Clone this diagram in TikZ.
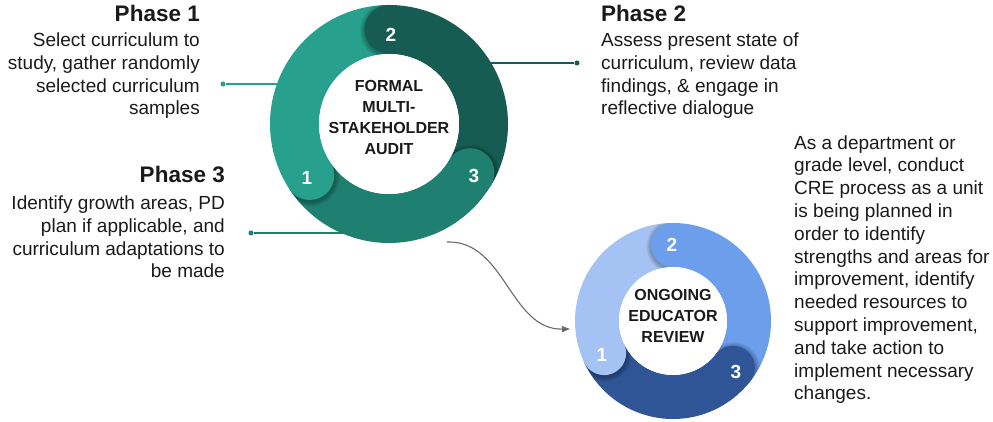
\documentclass[tikz,border=0pt]{standalone}
\usepackage{fontspec}
\setmainfont{Liberation Sans}
\usetikzlibrary{calc,arrows.meta}

% ring palettes
\definecolor{tealA}{HTML}{27A08E}
\definecolor{tealB}{HTML}{175C52}
\definecolor{tealC}{HTML}{1F8072}
\definecolor{blueA}{HTML}{A4C2F4}
\definecolor{blueB}{HTML}{6D9EEB}
\definecolor{blueC}{HTML}{2F5597}
\definecolor{ink}{HTML}{1A1A1A}
\definecolor{curvegray}{HTML}{6A6A6A}

% annular sector: centre, outer r, inner r, start angle, end angle, colour
\newcommand{\ringSeg}[6]{%
  \fill[#6] ($(#1)+(#4:#2pt)$) arc[start angle=#4, end angle=#5, radius=#2pt]
    -- ($(#1)+(#5:#3pt)$) arc[start angle=#5, end angle=#4, radius=#3pt] -- cycle;}
% rounded segment head; its soft shadow falls only on the preceding segment
% (the wedge counter-clockwise of the head):
% centre, outer r, mid radius, half width, angle, colour
\newcommand{\ringCap}[6]{%
  \begin{scope}
    \clip (#1) circle[radius=#2pt];
    \clip (#1) -- ($(#1)+(#5:#2pt+10pt)$) arc[start angle=#5, end angle=#5+70, radius=#2pt+10pt] -- cycle;
    \foreach \k in {1,...,5}{%
      \fill[black, opacity=0.06] ($(#1)+(#5:#3pt)+(0.5pt,-1.5pt)$) circle[radius=#4pt+\k*1pt];}
  \end{scope}
  \fill[#6] ($(#1)+(#5:#3pt)$) circle[radius=#4pt];}

\tikzset{
  heading/.style={font=\fontsize{22.5}{26}\selectfont\bfseries, text=ink, inner sep=0pt},
  body/.style={font=\fontsize{19}{22.8}\selectfont, text=ink, inner sep=0pt},
  hub/.style={font=\fontsize{16}{21}\selectfont\bfseries, text=ink, align=center, inner sep=0pt},
  num/.style={font=\fontsize{19}{22}\selectfont\bfseries, text=white, inner sep=0pt},
  dot/.style={circle, fill=#1, inner sep=0pt, minimum size=5pt},
  lead/.style={line width=1.4pt, draw=#1},
}

\begin{document}
\begin{tikzpicture}[x=1pt, y=1pt]
\useasboundingbox (0,0) rectangle (993,422);

% centres of the two rings
\coordinate (topc) at (389,298);
\coordinate (lowc) at (673,101);

% leader lines and connector (drawn first so the rings cover their ends)
\node[dot=tealA] (d1) at (223,338) {};
\coordinate (e1) at (300,338);
\node[dot=tealB] (d2) at (577,359) {};
\coordinate (e2) at (470,359);
\node[dot=tealC] (d3) at (251,189) {};
\coordinate (e3) at (360,189);
\draw[lead=tealA] (d1) -- (e1);
\draw[lead=tealB] (d2) -- (e2);
\draw[lead=tealC] (d3) -- (e3);

\coordinate (cstart) at (447,180);
\coordinate (cend) at (570,93);
\draw[curvegray, line width=1.1pt, -{Triangle[length=8pt, width=6pt]}]
  (cstart) .. controls (505,182) and (510,92) .. (cend);

% upper ring
\ringSeg{topc}{119}{70}{90}{213}{tealA}
\ringSeg{topc}{119}{70}{-31}{90}{tealB}
\ringSeg{topc}{119}{70}{-147}{-31}{tealC}
\ringCap{topc}{119}{94.5}{24.5}{90}{tealB}
\ringCap{topc}{119}{94.5}{24.5}{-31}{tealC}
\ringCap{topc}{119}{94.5}{24.5}{213}{tealA}
\fill[white] (topc) circle[radius=70pt];

% lower ring
\ringSeg{lowc}{98}{54}{90}{205}{blueA}
\ringSeg{lowc}{98}{54}{-38}{90}{blueB}
\ringSeg{lowc}{98}{54}{-155}{-38}{blueC}
\ringCap{lowc}{98}{76}{22}{90}{blueB}
\ringCap{lowc}{98}{76}{22}{-38}{blueC}
\ringCap{lowc}{98}{76}{22}{205}{blueA}
\fill[white] (lowc) circle[radius=54pt];

% segment numbers
\node[num] (t1) at (307,244) {1};
\node[num] (t2) at (391,387) {2};
\node[num] (t3) at (474,246) {3};
\node[num] (b1) at (602,67) {1};
\node[num] (b2) at (672,177) {2};
\node[num] (b3) at (736,50) {3};

% ring titles (base anchor sits on the last line)
\node[hub, anchor=base] (audit) at (389,267) {FORMAL\\MULTI-\\STAKEHOLDER\\AUDIT};
\node[hub, anchor=base] (review) at (673,79) {ONGOING\\EDUCATOR\\REVIEW};

% phase descriptions
\node[heading, anchor=base east] (h1) at (200,400) {Phase 1};
\node[body, align=right, anchor=base east] (p1) at (200,307)
  {Select curriculum to\\study, gather randomly\\selected curriculum\\samples};
\node[heading, anchor=base west] (h2) at (601,400) {Phase 2};
\node[body, align=left, anchor=base west] (p2) at (601,307)
  {Assess present state of\\curriculum, review data\\findings, \& engage in\\reflective dialogue};
\node[heading, anchor=base east] (h3) at (225,239) {Phase 3};
\node[body, align=right, anchor=base east] (p3) at (225,144)
  {Identify growth areas, PD\\plan if applicable, and\\curriculum adaptations to\\be made};
\node[body, align=left, anchor=base west] (note) at (794,22)
  {As a department or\\grade level, conduct\\CRE process as a unit\\is being planned in\\order to identify\\strengths and areas for\\improvement, identify\\needed resources to\\support improvement,\\and take action to\\implement necessary\\changes.};
\end{tikzpicture}
\end{document}
